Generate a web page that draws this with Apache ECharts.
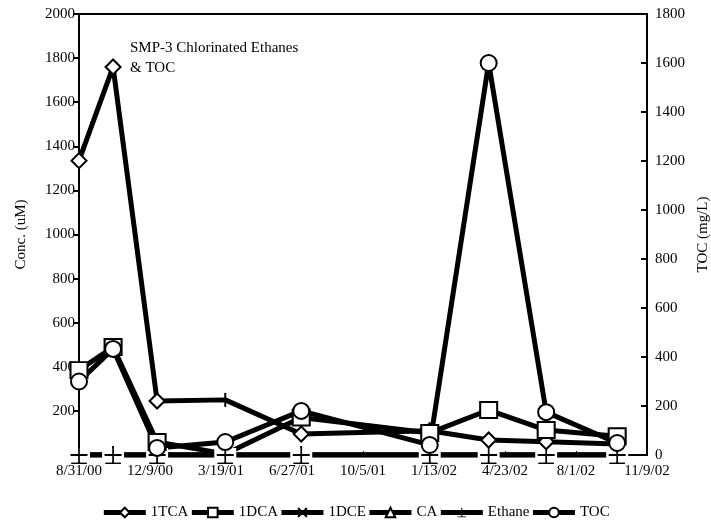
<!DOCTYPE html>
<html>
<head>
<meta charset="utf-8">
<script src="https://cdn.jsdelivr.net/npm/echarts@6/dist/echarts.min.js"></script>
<style>
html,body{margin:0;padding:0;background:#fff;}
#container{width:711px;height:529px;}
</style>
</head>
<body>
<div id="container"></div>
<script>
// sample dates (m/d/yy) and values
var dates   = ['8/31/00','10/18/00','12/19/00','3/25/01','7/10/01','1/7/02','3/31/02','6/20/02','9/28/02'];
var tca     = [1335, 1760, 245, 250, 95, 110, 68, 60, 50];
var dca     = [385, 490, 59, 5, 170, 100, 204, 113, 85];
var dce     = [0, 0, 0, 0, 0, 0, 0, 0, 0];
var ca      = [0, 0, 0, 0, 0, 0, 0, 0, 0];
var ethane  = [0, 0, 0, 0, 0, 0, 0, 0, 0];
var toc     = [300, 433, 29, 53, 180, 41, 1600, 175, 49];   // right axis, mg/L
var xLabels = ['8/31/00','12/9/00','3/19/01','6/27/01','10/5/01','1/13/02','4/23/02','8/1/02','11/9/02'];

var font = 'Liberation Serif';

function dayNum(s) {
	var p = s.split('/');
	return Date.UTC(2000 + (+p[2]), p[0] - 1, +p[1]) / 86400000;
}
var day0 = dayNum(xLabels[0]);
function pairs(vals) {
	return vals.map(function (v, i) { return [dayNum(dates[i]) - day0, v]; });
}

var crossPath = 'path://M9,0H11V20H9Z M0,9H20V11H0Z M1,18.5H19V20H1Z';
var xPath = 'path://M0,0L3,0L10,7L17,0L20,0L20,3L13,10L20,17L20,20L17,20L10,13L3,20L0,20L0,17L7,10L0,3Z';

var lineStyle = {color: '#000', width: 5};
var openItem = {color: '#fff', borderColor: '#000', borderWidth: 2};
var plain = function (v) { return String(v); };

var myChart = echarts.init(document.getElementById('container'));
var option = {
	animation: false,
	title: {
		text: 'SMP-3 Chlorinated Ethanes\n& TOC',
		left: 125, top: 33,
		textStyle: {fontFamily: font, fontSize: 15, fontWeight: 'normal', color: '#000', lineHeight: 20}
	},
	legend: {
		bottom: 4,
		left: 'center',
		data: ['1TCA', '1DCA', '1DCE', 'CA', 'Ethane', 'TOC'],
		itemWidth: 42, itemHeight: 12, itemGap: 1,
		lineStyle: {width: 5, color: '#000'},
		textStyle: {fontFamily: font, fontSize: 15, color: '#000', padding: [6, 0, 0, 0]}
	},
	grid: {left: 79, right: 64, top: 14, bottom: 74, containLabel: false, outerBoundsMode: 'none',
		show: true, borderColor: '#000', borderWidth: 2},
	xAxis: {
		type: 'value', min: 0, max: 800, interval: 100,
		axisLine: {onZero: false, lineStyle: {color: '#000', width: 1}},
		axisTick: {inside: true, length: 4, lineStyle: {color: '#000'}},
		splitLine: {show: false},
		axisLabel: {
			fontFamily: font, fontSize: 15, color: '#000', margin: 9,
			formatter: function (v) { return xLabels[Math.round(v / 100)]; }
		}
	},
	yAxis: [{
		type: 'value', min: 0, max: 2000, interval: 200,
		name: 'Conc. (uM)', nameLocation: 'middle', nameGap: 50, nameRotate: 90,
		nameTextStyle: {fontFamily: font, fontSize: 15, color: '#000'},
		axisLine: {show: true, lineStyle: {color: '#000', width: 2}},
		axisTick: {show: true, length: 6, lineStyle: {color: '#000', width: 2}},
		splitLine: {show: false},
		axisLabel: {fontFamily: font, fontSize: 15, color: '#000', margin: 4, formatter: plain}
	}, {
		type: 'value', min: 0, max: 1800, interval: 200,
		name: 'TOC (mg/L)', nameLocation: 'middle', nameGap: 44, nameRotate: 90,
		nameTextStyle: {fontFamily: font, fontSize: 15, color: '#000'},
		axisLine: {show: true, lineStyle: {color: '#000', width: 2}},
		axisTick: {show: true, inside: true, length: 6, lineStyle: {color: '#000', width: 2}},
		splitLine: {show: false},
		axisLabel: {fontFamily: font, fontSize: 15, color: '#000', margin: 8, formatter: plain}
	}],
	series: [
		{name: '1DCE', type: 'line', data: pairs(dce), symbol: xPath, symbolSize: 10,
			lineStyle: lineStyle, itemStyle: {color: '#000'}},
		{name: 'CA', type: 'line', data: pairs(ca), symbol: 'triangle', symbolSize: 12,
			lineStyle: lineStyle, itemStyle: openItem},
		{name: 'Ethane', type: 'line', data: pairs(ethane), symbol: crossPath, symbolSize: [17, 18],
			lineStyle: lineStyle, itemStyle: {color: '#000'}},
		// white boxes over the zero lines, then the ethane crosses again on top
		{name: 'ethaneBox', type: 'line', data: pairs(ethane), symbol: 'rect', symbolSize: [22, 14],
			lineStyle: {width: 0}, itemStyle: {color: '#fff'}, silent: true},
		{name: 'ethaneCross', type: 'line', data: pairs(ethane), symbol: crossPath, symbolSize: [17, 18],
			lineStyle: {width: 0}, itemStyle: {color: '#000'}, silent: true},
		{name: '1TCA', type: 'line', data: pairs(tca).map(function (p, i) {
				// this point shows only a vertical tick
				return i === 3 ? {value: p, symbol: 'path://M0,0H2V10H0Z', symbolSize: [2, 14], itemStyle: {color: '#000', borderWidth: 0}} : p;
			}),
			symbol: 'diamond', symbolSize: 15, lineStyle: lineStyle, itemStyle: openItem},
		{name: '1DCA', type: 'line', data: pairs(dca).map(function (p, i) {
				return i === 3 ? {value: p, symbol: 'none'} : p;
			}),
			symbol: 'rect', symbolSize: [17, 16], lineStyle: lineStyle, itemStyle: openItem},
		{name: 'TOC', type: 'line', yAxisIndex: 1, data: pairs(toc), symbol: 'circle', symbolSize: 16,
			lineStyle: lineStyle, itemStyle: openItem}
	]
};
myChart.setOption(option);
</script>
</body>
</html>
